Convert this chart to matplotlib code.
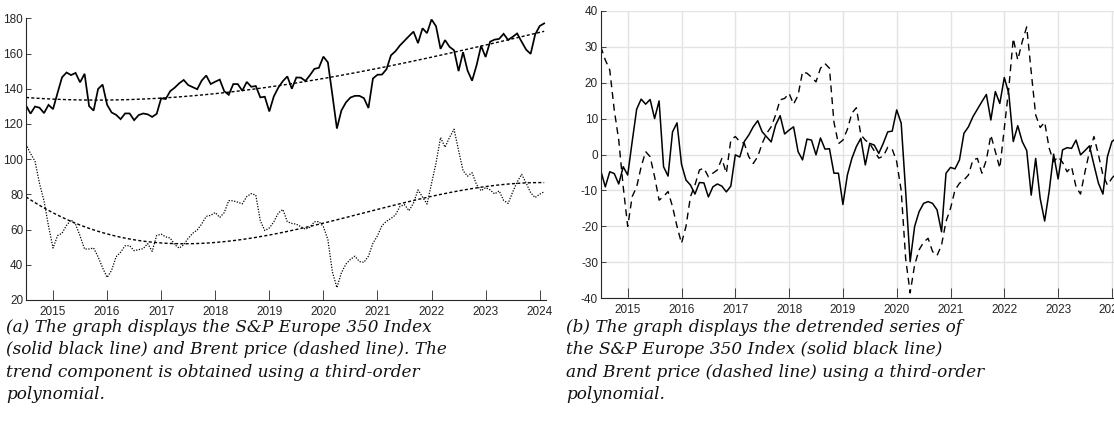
import numpy as np
import matplotlib
matplotlib.use("Agg")
import matplotlib.pyplot as plt
from matplotlib import font_manager

plt.rcParams["axes.unicode_minus"] = False

# ---------------- data ----------------
start_year = 2014.5  # first monthly observation (July 2014)

sp_detrended = [
    -4.5, -9.0, -4.8, -5.3, -8.2, -3.4, -5.7, 3.6, 12.6, 15.4,
    14.0, 15.3, 10.0, 14.9, -3.4, -6.0, 6.3, 8.8, -2.7, -7.1,
    -8.5, -11.0, -7.8, -7.9, -11.8, -9.0, -8.2, -8.8, -10.4, -8.8,
    -0.1, -0.7, 3.6, 5.4, 7.7, 9.4, 6.3, 4.9, 3.5, 8.2,
    10.8, 5.7, 6.8, 7.7, 0.8, -1.5, 4.3, 4.0, -0.1, 4.6,
    1.5, 1.6, -5.2, -5.2, -13.9, -5.7, -1.1, 2.2, 4.5, -2.9,
    3.1, 2.6, 0.3, 3.1, 6.3, 6.5, 12.4, 8.7, -10.3, -29.8,
    -20.0, -15.9, -13.6, -13.1, -13.6, -15.4, -21.5, -5.2, -3.6, -4.0,
    -1.5, 5.9, 7.7, 10.5, 12.6, 14.7, 16.7, 9.6, 17.5, 14.2,
    21.4, 17.0, 3.6, 8.0, 3.6, 1.1, -11.3, -1.1, -12.2, -18.5,
    -10.3, 0.1, -6.8, 1.3, 1.9, 1.7, 4.0, -0.1, 1.1, 2.4,
    -2.9, -8.0, -11.0, -0.6, 3.6, 4.5,
]

brent_detrended = [
    30.0, 26.3, 23.5, 12.4, 4.0, -9.0, -20.0, -11.7, -9.0, -3.4,
    0.8, -0.6, -6.2, -12.7, -11.7, -10.3, -14.5, -20.0, -24.7, -20.0,
    -11.7, -8.5, -4.3, -3.8, -6.2, -5.2, -4.3, -1.1, -5.2, 4.0,
    5.0, 3.6, 3.1, -0.6, -2.5, -0.6, 3.1, 5.9, 7.7, 11.0,
    15.2, 15.6, 17.0, 14.0, 16.5, 23.0, 22.6, 21.5, 20.2, 24.0,
    25.3, 24.0, 9.0, 3.0, 4.0, 7.0, 11.5, 13.0, 5.5, 4.0,
    3.0, 1.0, -1.0, -0.5, 2.0, 1.5, -2.0, -10.0, -29.0, -38.5,
    -30.7, -26.5, -24.4, -23.3, -27.0, -28.1, -25.2, -18.6, -15.0, -9.9,
    -8.0, -7.1, -5.7, -1.5, -1.1, -5.2, -1.5, 5.4, 0.8, -3.8,
    7.3, 18.4, 32.3, 26.3, 31.4, 35.5, 23.0, 11.0, 7.5, 9.0,
    1.8, -2.0, -0.6, -2.2, -4.8, -3.4, -9.0, -11.0, -4.8, 0.8,
    5.0, -0.1, -5.7, -8.5, -6.6, -5.2,
]

# trend values at whole years
trend_years = [2014.5, 2015, 2016, 2017, 2018, 2019, 2020, 2021, 2022, 2023, 2024]
sp_trend_read = [134.8, 134.4, 133.8, 134.3, 137.2, 140.8, 146.2, 151.6, 158.0, 164.4, 172.2]
brent_trend_read = [78.2, 69.3, 59.3, 51.7, 51.4, 57.0, 64.6, 71.6, 78.4, 84.5, 86.7]

year_ticks = [2015, 2016, 2017, 2018, 2019, 2020, 2021, 2022, 2023, 2024]
left_yticks = [20, 40, 60, 80, 100, 120, 140, 160, 180]
right_yticks = [-40, -30, -20, -10, 0, 10, 20, 30, 40]

caption_a = [
    "(a) The graph displays the S&P Europe 350 Index",
    "(solid black line) and Brent price (dashed line). The",
    "trend component is obtained using a third-order",
    "polynomial.",
]
caption_b = [
    "(b) The graph displays the detrended series of",
    "the S&P Europe 350 Index (solid black line)",
    "and Brent price (dashed line) using a third-order",
    "polynomial.",
]

# ---------------- derived series ----------------
n = len(sp_detrended)
t = start_year + np.arange(n) / 12.0
sp_coef = np.polyfit(trend_years, sp_trend_read, 3)
br_coef = np.polyfit(trend_years, brent_trend_read, 3)
sp_trend = np.polyval(sp_coef, t)
br_trend = np.polyval(br_coef, t)
sp_level = sp_trend + np.array(sp_detrended)
br_level = br_trend + np.array(brent_detrended)

# ---------------- figure ----------------
W, H = 1114, 429
fig = plt.figure(figsize=(W / 100, H / 100), dpi=100)

avail = {f.name for f in font_manager.fontManager.ttflist}
tick_family = ["Liberation Sans Narrow", "DejaVu Sans"] if "Liberation Sans Narrow" in avail else ["Liberation Sans", "DejaVu Sans"]
axis_col = "#262626"


def style_axes(ax, grid):
    for s in ["top", "right"]:
        ax.spines[s].set_visible(False)
    for s in ["left", "bottom"]:
        ax.spines[s].set_color(axis_col)
        ax.spines[s].set_linewidth(0.8)
    ax.tick_params(axis="x", direction="in", length=7.2, width=0.6, color=axis_col,
                   labelsize=8.5, labelcolor=axis_col, pad=4)
    ax.tick_params(axis="y", direction="in", length=3.6, width=0.6, color=axis_col,
                   labelsize=8.5, labelcolor=axis_col, pad=2)
    for lab in ax.get_xticklabels() + ax.get_yticklabels():
        lab.set_family(tick_family)
    if grid:
        ax.grid(True, color="#e3e3e3", linewidth=1.0)
        ax.set_axisbelow(True)


# left panel
ax1 = fig.add_axes([26 / W, 1 - 300 / H, 520 / W, (300 - 18.3) / H])
ax1.plot(t, sp_level, color="black", lw=1.25, solid_joinstyle="miter")
ax1.plot(t, br_level, color="black", lw=0.9, linestyle=(0, (1, 1.2)))
ax1.plot(t, sp_trend, color="black", lw=1.0, linestyle=(0, (2.2, 1.6)))
ax1.plot(t, br_trend, color="black", lw=1.0, linestyle=(0, (2.2, 1.6)))
ax1.set_xlim(2014.5, 2014.5 + 520 / 54.07)
ax1.set_ylim(20, 180)
ax1.set_xticks(year_ticks)
ax1.set_yticks(left_yticks)
style_axes(ax1, grid=False)

# right panel (extends past the figure edge, as in the reference)
ax2 = fig.add_axes([600.8 / W, 1 - 298.3 / H, 520 / W, (298.3 - 10.7) / H])
ax2.plot(t, sp_detrended, color="black", lw=1.1)
ax2.plot(t, brent_detrended, color="black", lw=1.0, linestyle=(0, (5, 3.5)))
ax2.set_xlim(2014.5, 2014.5 + 520 / 53.8)
ax2.set_ylim(-40, 40)
ax2.set_xticks(year_ticks)
ax2.set_yticks(right_yticks)
style_axes(ax2, grid=True)

# captions
cap_kw = dict(family="DejaVu Serif", style="italic", va="baseline", ha="left", color="#111111")
baselines = [332, 354.5, 377, 399]
fs = 12.0
probe = fig.text(6 / W, 1 - baselines[0] / H, caption_a[0], fontsize=fs, **cap_kw)
fig.canvas.draw()
wpx = probe.get_window_extent().width
fs = fs * 424.0 / wpx
probe.remove()
for x0, lines in [(6, caption_a), (566, caption_b)]:
    for yb, line in zip(baselines, lines):
        fig.text(x0 / W, 1 - yb / H, line, fontsize=fs, **cap_kw)

fig.savefig("out.png", dpi=100)
